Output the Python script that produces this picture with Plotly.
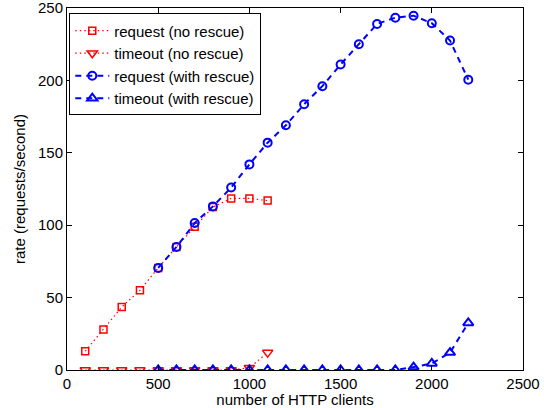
import plotly.graph_objects as go

x_norescue = [100, 200, 300, 400, 500, 600, 700, 800, 900, 1000, 1100]
req_norescue = [13, 28, 43.5, 55, 70.5, 85, 99, 112.5, 118.5, 118.5, 117]
tmo_norescue = [0, 0, 0, 0, 0, 0, 0, 0, 0, 1.5, 12]

x_rescue = [500, 600, 700, 800, 900, 1000, 1100, 1200, 1300, 1400, 1500, 1600, 1700, 1800, 1900, 2000, 2100, 2200]
req_rescue = [70.5, 85, 101.5, 113, 126, 142, 157, 169, 183.5, 196, 211, 225, 239, 243.3, 244.7, 239.5, 227.5, 200.5]
tmo_rescue = [0, 0, 0, 0, 0, 0, 0, 0, 0, 0, 0, 0, 0, 0, 2, 4.5, 12, 32.5]

RED = "#ff0000"
BLUE = "#0000ff"

fig = go.Figure()
fig.add_trace(go.Scatter(x=x_norescue, y=req_norescue, name="request (no rescue)",
                         mode="lines+markers",
                         line=dict(color=RED, dash="1.5px,3px", width=1.2),
                         marker=dict(symbol="square-open", size=7, color=RED, line=dict(width=1.5, color=RED))))
fig.add_trace(go.Scatter(x=x_norescue, y=tmo_norescue, name="timeout (no rescue)",
                         mode="lines+markers",
                         line=dict(color=RED, dash="1.5px,3px", width=1.2),
                         marker=dict(symbol="triangle-down-open", size=9, color=RED, line=dict(width=1.5, color=RED))))
fig.add_trace(go.Scatter(x=x_rescue, y=req_rescue, name="request (with rescue)",
                         mode="lines+markers",
                         line=dict(color=BLUE, dash="6px,5px", width=2),
                         marker=dict(symbol="circle-open", size=8, color=BLUE, line=dict(width=2, color=BLUE))))
fig.add_trace(go.Scatter(x=x_rescue, y=tmo_rescue, name="timeout (with rescue)",
                         mode="lines+markers",
                         line=dict(color=BLUE, dash="6px,5px", width=2),
                         marker=dict(symbol="triangle-up-open", size=9, color=BLUE, line=dict(width=2, color=BLUE))))

axis_common = dict(showline=True, linecolor="black", linewidth=1, mirror="ticks",
                   ticks="inside", ticklen=5, tickcolor="black", showgrid=False, zeroline=False,
                   automargin=False, ticklabeloverflow="allow",
                   tickfont=dict(size=15, color="black"))

fig.update_layout(
    width=544, height=408,
    margin=dict(l=67, r=21, t=8, b=38),
    paper_bgcolor="white", plot_bgcolor="white",
    font=dict(family="Liberation Sans, Arial, sans-serif", size=15, color="black"),
    xaxis=dict(range=[0, 2500], tickvals=[0, 500, 1000, 1500, 2000, 2500],
               title=dict(text="number of HTTP clients", standoff=0, font=dict(size=15)), **axis_common),
    yaxis=dict(range=[0, 250], tickvals=[0, 50, 100, 150, 200, 250],
               title=dict(text="rate (requests/second)", standoff=8, font=dict(size=15)), **axis_common),
    legend=dict(x=0.005, y=0.985, xanchor="left", yanchor="top",
                bgcolor="white", bordercolor="black", borderwidth=1,
                font=dict(size=15), tracegroupgap=0, itemwidth=34),
    showlegend=True,
)

fig.write_html("out.html")
